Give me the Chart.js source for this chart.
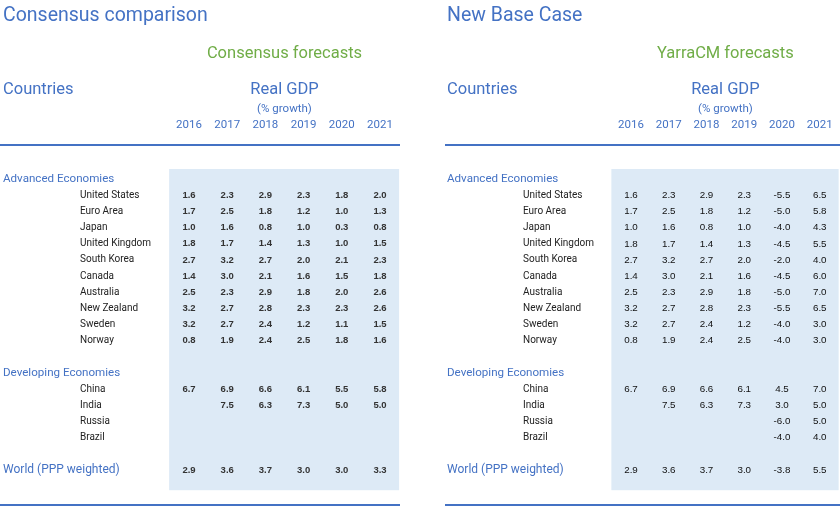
<!DOCTYPE html>
<html><head><meta charset="utf-8">
<script src="https://cdn.jsdelivr.net/npm/chart.js@4"></script>
<style>html,body{margin:0;padding:0;background:#fff}canvas{display:block}</style>
</head><body>
<canvas id="c" width="840" height="506" style="width:840px;height:506px"></canvas>
<script>
// ---------- DATA ----------
const years = ['2016','2017','2018','2019','2020','2021'];
const advancedCountries = ['United States','Euro Area','Japan','United Kingdom','South Korea','Canada','Australia','New Zealand','Sweden','Norway'];
const developingCountries = ['China','India','Russia','Brazil'];
const worldLabel = 'World (PPP weighted)';
const groupLabels = ['Advanced Economies','Developing Economies'];

const consensusAdvanced = [
  [1.6,2.3,2.9,2.3,1.8,2.0],
  [1.7,2.5,1.8,1.2,1.0,1.3],
  [1.0,1.6,0.8,1.0,0.3,0.8],
  [1.8,1.7,1.4,1.3,1.0,1.5],
  [2.7,3.2,2.7,2.0,2.1,2.3],
  [1.4,3.0,2.1,1.6,1.5,1.8],
  [2.5,2.3,2.9,1.8,2.0,2.6],
  [3.2,2.7,2.8,2.3,2.3,2.6],
  [3.2,2.7,2.4,1.2,1.1,1.5],
  [0.8,1.9,2.4,2.5,1.8,1.6]
];
const consensusDeveloping = [
  [6.7,6.9,6.6,6.1,5.5,5.8],
  [null,7.5,6.3,7.3,5.0,5.0],
  [null,null,null,null,null,null],
  [null,null,null,null,null,null]
];
const consensusWorld = [2.9,3.6,3.7,3.0,3.0,3.3];

const yarraAdvanced = [
  [1.6,2.3,2.9,2.3,-5.5,6.5],
  [1.7,2.5,1.8,1.2,-5.0,5.8],
  [1.0,1.6,0.8,1.0,-4.0,4.3],
  [1.8,1.7,1.4,1.3,-4.5,5.5],
  [2.7,3.2,2.7,2.0,-2.0,4.0],
  [1.4,3.0,2.1,1.6,-4.5,6.0],
  [2.5,2.3,2.9,1.8,-5.0,7.0],
  [3.2,2.7,2.8,2.3,-5.5,6.5],
  [3.2,2.7,2.4,1.2,-4.0,3.0],
  [0.8,1.9,2.4,2.5,-4.0,3.0]
];
const yarraDeveloping = [
  [6.7,6.9,6.6,6.1,4.5,7.0],
  [null,7.5,6.3,7.3,3.0,5.0],
  [null,null,null,null,-6.0,5.0],
  [null,null,null,null,-4.0,4.0]
];
const yarraWorld = [2.9,3.6,3.7,3.0,-3.8,5.5];

// ---------- LAYOUT (positions / styles) ----------
const W = 840, H = 506;
const rowTop = 177.7, rowStep = 16.15;           // pixel of row 0 and row spacing
const TY = 1.5;                                   // baseline nudge for Roboto text
const panels = [
  {key:'L', title:'Consensus comparison', sub:'Consensus forecasts', col0:189, colStep:38.2, x0:3, nameX:80, lineX:[0,400],
   adv:consensusAdvanced, dev:consensusDeveloping, world:consensusWorld, valueColor:'#333', valueFont:'bold 9.5px "Liberation Sans"'},
  {key:'R', title:'New Base Case', sub:'YarraCM forecasts', col0:631, colStep:37.75, x0:447, nameX:523, lineX:[445,840],
   adv:yarraAdvanced, dev:yarraDeveloping, world:yarraWorld, valueColor:'#111', valueFont:'9.8px "Liberation Sans"'}
];
const BLUE = '#4472C4', GREEN = '#70AD47', SHADE = '#DDEAF6';

// rows: 0 header adv, 1..10 advanced, 12 header dev, 13..16 developing, 18 world
function rowsFor(p){
  const cells = [];
  p.adv.forEach((r,i)=>r.forEach((v,c)=>{ if(v!==null) cells.push({x:c,y:1+i,v}); }));
  p.dev.forEach((r,i)=>r.forEach((v,c)=>{ if(v!==null) cells.push({x:c,y:13+i,v}); }));
  p.world.forEach((v,c)=>{ if(v!==null) cells.push({x:c,y:18,v}); });
  return cells;
}

const datasets = panels.map(p=>({
  label:p.title, data:rowsFor(p), xAxisID:'x'+p.key, yAxisID:'y',
  pointRadius:0, pointHoverRadius:0, showLine:false
}));

const scales = {
  y:{type:'linear', display:false, reverse:true, min:(0-rowTop)/rowStep, max:(H-rowTop)/rowStep}
};
panels.forEach(p=>{
  scales['x'+p.key] = {type:'linear', display:false, min:(0-p.col0)/p.colStep, max:(W-p.col0)/p.colStep};
});

const tablePlugin = {
  id:'table',
  afterDraw(chart){
    const ctx = chart.ctx, ys = chart.scales.y;
    panels.forEach((p,pi)=>{
      const xs = chart.scales['x'+p.key];
      // shaded block
      const sx0 = xs.getPixelForValue(-0.52), sx1 = xs.getPixelForValue(5.5);
      const sy0 = ys.getPixelForValue(-0.54), sy1 = ys.getPixelForValue(19.35);
      ctx.fillStyle = SHADE;
      ctx.fillRect(sx0, sy0, Math.min(sx1,W)-sx0, sy1-sy0);
      // rules
      ctx.fillStyle = BLUE;
      ctx.fillRect(p.lineX[0], 144, p.lineX[1]-p.lineX[0], 2);
      ctx.fillRect(p.lineX[0], 504, p.lineX[1]-p.lineX[0], 2);
      // headings
      ctx.textBaseline = 'middle';
      ctx.textAlign = 'left';
      ctx.fillStyle = BLUE;
      ctx.font = '19.5px Roboto';
      ctx.fillText(p.title, p.x0, 15+TY);
      ctx.font = '16.5px Roboto';
      ctx.fillText('Countries', p.x0, 88.3+TY);
      const mid = (xs.getPixelForValue(0)+xs.getPixelForValue(5))/2;
      ctx.textAlign = 'center';
      ctx.fillText('Real GDP', mid, 88.3+TY);
      ctx.fillStyle = GREEN;
      ctx.fillText(p.sub, mid, 52.7+TY);
      ctx.fillStyle = BLUE;
      ctx.font = '11.5px Roboto';
      ctx.fillText('(% growth)', mid, 107.3+TY);
      years.forEach((y,c)=>ctx.fillText(y, xs.getPixelForValue(c), 123.5+TY));
      // group labels
      ctx.textAlign = 'left';
      ctx.font = '11.6px Roboto';
      ctx.fillText(groupLabels[0], p.x0, ys.getPixelForValue(0)+TY);
      ctx.fillText(groupLabels[1], p.x0, ys.getPixelForValue(12)+TY);
      ctx.font = '12px Roboto';
      ctx.fillText(worldLabel, p.x0, ys.getPixelForValue(18)+TY);
      // country names
      ctx.fillStyle = '#222';
      ctx.font = '10px Roboto';
      advancedCountries.forEach((n,i)=>ctx.fillText(n, p.nameX, ys.getPixelForValue(1+i)+TY));
      developingCountries.forEach((n,i)=>ctx.fillText(n, p.nameX, ys.getPixelForValue(13+i)+TY));
      // values
      ctx.textAlign = 'center';
      ctx.fillStyle = p.valueColor;
      ctx.font = p.valueFont;
      const meta = chart.getDatasetMeta(pi);
      meta.data.forEach((el,i)=>{
        const d = chart.data.datasets[pi].data[i];
        ctx.fillText(d.v.toFixed(1), el.x, el.y+1.5);
      });
    });
  }
};

new Chart(document.getElementById('c'), {
  type:'scatter',
  data:{datasets},
  options:{
    responsive:false, animation:false, devicePixelRatio:1,
    layout:{padding:0},
    scales,
    plugins:{legend:{display:false}, tooltip:{enabled:false}, title:{display:false}}
  },
  plugins:[tablePlugin]
});
</script>
</body></html>
